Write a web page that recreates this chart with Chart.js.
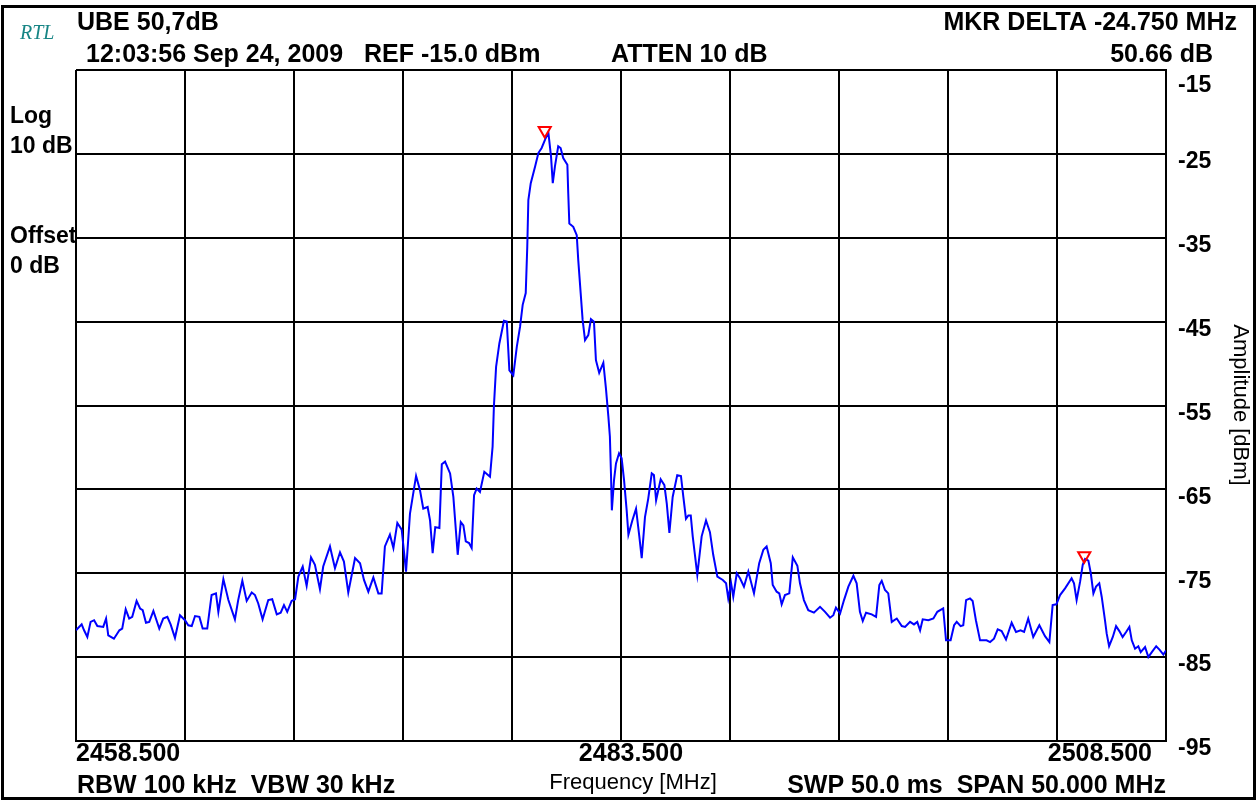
<!DOCTYPE html>
<html>
<head>
<meta charset="utf-8">
<script src="https://cdn.jsdelivr.net/npm/chart.js@4.4.0/dist/chart.umd.min.js"></script>
<style>
html, body { margin: 0; padding: 0; background: #fff; }
canvas { display: block; }
</style>
</head>
<body>
<canvas id="myChart" width="1259" height="802"></canvas>
<script>
// trace (MHz / dBm)
const freq = [
    2458.50, 2458.76, 2458.87, 2459.02, 2459.17, 2459.33, 2459.48, 2459.75, 2459.88, 2459.98,
    2460.24, 2460.49, 2460.62, 2460.78, 2460.94, 2461.08, 2461.28, 2461.44, 2461.56, 2461.71,
    2461.86, 2462.05, 2462.32, 2462.50, 2462.69, 2462.84, 2463.04, 2463.27, 2463.50, 2463.65,
    2463.81, 2463.96, 2464.16, 2464.31, 2464.52, 2464.72, 2464.92, 2465.03, 2465.26, 2465.49,
    2465.79, 2465.94, 2466.13, 2466.33, 2466.56, 2466.71, 2466.86, 2467.06, 2467.32, 2467.50,
    2467.71, 2467.89, 2468.04, 2468.19, 2468.39, 2468.55, 2468.70, 2468.90, 2469.08, 2469.28,
    2469.46, 2469.69, 2469.84, 2470.15, 2470.38, 2470.61, 2470.79, 2470.99, 2471.30, 2471.53,
    2471.71, 2471.91, 2472.14, 2472.37, 2472.52, 2472.67, 2472.90, 2473.06, 2473.24, 2473.44,
    2473.64, 2473.82, 2474.10, 2474.28, 2474.43, 2474.63, 2474.74, 2474.86, 2474.98, 2475.17,
    2475.28, 2475.43, 2475.66, 2475.81, 2476.01, 2476.15, 2476.27, 2476.38, 2476.53, 2476.65,
    2476.76, 2476.88, 2477.03, 2477.23, 2477.49, 2477.61, 2477.67, 2477.77, 2477.92, 2478.13,
    2478.26, 2478.38, 2478.56, 2478.72, 2478.87, 2478.99, 2479.13, 2479.20, 2479.25, 2479.36,
    2479.56, 2479.71, 2479.86, 2480.05, 2480.17, 2480.29, 2480.37, 2480.47, 2480.62, 2480.73,
    2480.85, 2481.04, 2481.08, 2481.13, 2481.31, 2481.47, 2481.54, 2481.65, 2481.74, 2481.85,
    2482.00, 2482.12, 2482.26, 2482.35, 2482.50, 2482.69, 2482.81, 2482.92, 2482.99, 2483.04,
    2483.08, 2483.18, 2483.27, 2483.41, 2483.53, 2483.64, 2483.76, 2483.84, 2484.02, 2484.19,
    2484.34, 2484.45, 2484.60, 2484.75, 2484.91, 2485.01, 2485.11, 2485.32, 2485.49, 2485.60,
    2485.72, 2485.87, 2486.08, 2486.25, 2486.36, 2486.48, 2486.59, 2486.70, 2486.79, 2487.00,
    2487.20, 2487.40, 2487.58, 2487.73, 2487.92, 2488.17, 2488.32, 2488.42, 2488.55, 2488.65,
    2488.81, 2488.96, 2489.14, 2489.34, 2489.60, 2489.84, 2490.03, 2490.18, 2490.37, 2490.46,
    2490.64, 2490.76, 2490.87, 2491.02, 2491.22, 2491.38, 2491.59, 2491.71, 2491.89, 2492.09,
    2492.35, 2492.63, 2492.86, 2493.09, 2493.24, 2493.36, 2493.55, 2493.73, 2493.93, 2494.16,
    2494.31, 2494.46, 2494.59, 2494.74, 2495.00, 2495.20, 2495.35, 2495.46, 2495.61, 2495.76,
    2495.92, 2496.15, 2496.38, 2496.53, 2496.76, 2496.94, 2497.09, 2497.22, 2497.34, 2497.60,
    2497.83, 2498.01, 2498.28, 2498.41, 2498.62, 2498.78, 2498.90, 2499.08, 2499.20, 2499.33,
    2499.51, 2499.63, 2499.78, 2499.97, 2500.27, 2500.43, 2500.61, 2500.78, 2500.96, 2501.16,
    2501.42, 2501.62, 2501.83, 2501.99, 2502.18, 2502.41, 2502.69, 2502.95, 2503.15, 2503.30,
    2503.47, 2503.64, 2503.87, 2504.17, 2504.28, 2504.40, 2504.56, 2504.68, 2504.79, 2504.94,
    2505.05, 2505.17, 2505.29, 2505.44, 2505.55, 2505.70, 2505.78, 2505.89, 2506.06, 2506.21,
    2506.36, 2506.51, 2506.67, 2506.82, 2506.93, 2507.08, 2507.23, 2507.34, 2507.54, 2507.69,
    2507.85, 2508.05, 2508.20, 2508.38, 2508.50
];
const amp = [
    -81.8, -81.1, -81.8, -82.6, -80.8, -80.6, -81.3, -81.4, -80.4, -82.4,
    -82.8, -81.8, -81.6, -79.3, -80.4, -80.2, -78.3, -79.2, -79.4, -80.9,
    -80.8, -79.5, -81.6, -80.4, -80.2, -81.1, -82.7, -80.0, -80.6, -81.2,
    -81.3, -80.1, -80.2, -81.6, -81.6, -77.6, -77.4, -79.6, -75.7, -78.2,
    -80.5, -78.2, -75.9, -78.3, -77.3, -77.6, -78.6, -80.5, -78.2, -78.1,
    -79.9, -79.7, -78.8, -79.6, -78.3, -78.1, -75.4, -74.2, -76.5, -73.1,
    -74.0, -76.9, -74.2, -71.8, -74.4, -72.5, -73.6, -77.3, -73.2, -73.8,
    -75.8, -77.2, -75.5, -77.4, -77.4, -71.8, -70.4, -72.0, -69.0, -69.8,
    -74.8, -67.9, -63.4, -65.1, -67.3, -67.1, -68.7, -72.6, -69.5, -69.6,
    -62.0, -61.7, -63.1, -65.9, -72.8, -68.9, -69.3, -71.2, -71.4, -72.0,
    -65.7, -64.9, -65.3, -62.9, -63.5, -59.9, -55.1, -50.4, -47.6, -44.9,
    -45.0, -50.8, -51.4, -48.0, -45.6, -43.0, -41.6, -36.1, -30.5, -28.5,
    -26.5, -24.9, -24.3, -23.1, -22.5, -25.3, -28.5, -26.5, -24.1, -24.3,
    -25.5, -26.3, -29.7, -33.3, -33.7, -34.7, -37.7, -41.6, -44.8, -47.2,
    -46.6, -44.7, -45.0, -49.6, -51.1, -49.9, -53.0, -56.3, -58.7, -63.1,
    -67.5, -63.9, -61.9, -60.7, -61.3, -63.9, -67.5, -70.4, -68.7, -67.3,
    -70.6, -73.2, -68.3, -66.1, -63.1, -63.3, -66.3, -63.8, -64.5, -66.7,
    -70.2, -65.9, -63.3, -63.4, -65.9, -68.5, -68.1, -68.1, -70.6, -75.2,
    -70.6, -68.7, -70.1, -72.8, -75.4, -75.8, -76.2, -78.0, -76.2, -77.8,
    -75.0, -75.6, -76.6, -74.8, -77.4, -73.8, -72.2, -71.8, -73.8, -76.4,
    -77.2, -77.4, -78.7, -77.6, -77.4, -73.1, -74.1, -76.2, -78.2, -79.4,
    -79.7, -79.0, -79.6, -80.3, -80.0, -79.1, -79.8, -78.2, -76.6, -75.3,
    -76.2, -79.6, -80.7, -79.7, -79.9, -80.2, -76.4, -75.9, -77.0, -77.4,
    -80.8, -80.4, -81.3, -81.4, -80.8, -81.1, -80.8, -81.8, -80.5, -80.6,
    -80.4, -79.6, -79.2, -83.0, -83.0, -81.2, -80.8, -81.3, -81.2, -78.2,
    -78.0, -78.3, -80.6, -83.0, -83.0, -83.2, -82.8, -81.7, -81.9, -82.9,
    -80.9, -82.0, -81.8, -82.0, -80.4, -82.6, -81.2, -82.5, -83.2, -78.8,
    -78.7, -77.6, -76.8, -75.6, -76.2, -78.2, -76.0, -74.0, -73.3, -73.5,
    -75.0, -77.4, -76.6, -76.2, -77.8, -80.6, -82.2, -83.7, -82.6, -81.3,
    -81.9, -82.6, -82.0, -81.4, -83.0, -84.0, -83.7, -84.4, -83.8, -85.0,
    -84.4, -83.7, -84.1, -84.7, -84.2
];
// markers (MKR 1 on the carrier, delta marker on the right)
const mkrFreq = [2480.0, 2504.75];
const mkrAmp = [-22.2, -72.9];

const yTicks = [-15, -25, -35, -45, -55, -65, -75, -85, -95];
const xTickValues = [2458.5, 2483.5, 2508.5];
const xTickLabels = ['2458.500', '2483.500', '2508.500'];

const FONT = '"Liberation Sans", Arial, sans-serif';

const textPlugin = {
    id: 'analyzerText',
    afterDraw(chart) {
        const ctx = chart.ctx;
        const xs = chart.scales.x;
        const ys = chart.scales.y;
        ctx.save();
        // outer frame
        ctx.strokeStyle = '#000';
        ctx.lineWidth = 3;
        ctx.strokeRect(2.5, 6.5, 1252, 792);

        ctx.fillStyle = '#000';
        ctx.textBaseline = 'middle';

        // header
        ctx.font = 'italic 20px "Liberation Serif", "Times New Roman", serif';
        ctx.fillStyle = '#178585';
        ctx.textAlign = 'left';
        ctx.fillText('RTL', 20, 34);
        ctx.fillStyle = '#000';
        ctx.font = 'bold 25px ' + FONT;
        ctx.fillText('UBE 50,7dB', 77, 23);
        ctx.fillText('12:03:56 Sep 24, 2009   REF -15.0 dBm', 86, 55);
        ctx.fillText('ATTEN 10 dB', 611, 55);
        ctx.textAlign = 'right';
        ctx.fillText('MKR DELTA -24.750 MHz', 1237, 23);
        ctx.fillText('50.66 dB', 1213, 55);

        // left side labels
        ctx.textAlign = 'left';
        ctx.font = 'bold 23px ' + FONT;
        ctx.fillText('Log', 10, 117);
        ctx.fillText('10 dB', 10, 147);
        ctx.fillText('Offset', 10, 237);
        ctx.fillText('0 dB', 10, 267);

        // y tick labels (right side, below the grid line)
        yTicks.forEach((v, i) => {
            const py = ys.getPixelForValue(v) + (i === 0 ? 16 : 8);
            ctx.fillText(String(v), 1178, py);
        });

        // amplitude title
        ctx.save();
        ctx.font = '22px ' + FONT;
        ctx.translate(1240, 405);
        ctx.rotate(Math.PI / 2);
        ctx.textAlign = 'center';
        ctx.fillText('Amplitude [dBm]', 0, 0);
        ctx.restore();

        // x tick labels
        ctx.font = 'bold 25px ' + FONT;
        const aligns = ['left', 'center', 'right'];
        const offs = [0, 10, -14];
        xTickValues.forEach((v, i) => {
            ctx.textAlign = aligns[i];
            ctx.fillText(xTickLabels[i], xs.getPixelForValue(v) + offs[i], 754);
        });

        // footer
        ctx.font = 'bold 25px ' + FONT;
        ctx.textAlign = 'left';
        ctx.fillText('RBW 100 kHz  VBW 30 kHz', 77, 786);
        ctx.textAlign = 'right';
        ctx.fillText('SWP 50.0 ms  SPAN 50.000 MHz', 1166, 786);
        ctx.textAlign = 'center';
        ctx.font = '22px ' + FONT;
        ctx.fillText('Frequency [MHz]', 633, 783);
        ctx.restore();
    }
};

const data = {
    datasets: [
        {
            label: 'Trace',
            data: freq.map((f, i) => ({ x: f, y: amp[i] })),
            borderColor: '#0000ff',
            borderWidth: 2,
            pointRadius: 0,
            tension: 0,
            order: 2,
        },
        {
            label: 'Marker',
            data: mkrFreq.map((f, i) => ({ x: f, y: mkrAmp[i] })),
            showLine: false,
            pointStyle: 'triangle',
            rotation: 180,
            pointRadius: 7,
            borderColor: '#ff0000',
            backgroundColor: 'rgba(255,255,255,0)',
            borderWidth: 2,
            clip: false,
            order: 1,
        }
    ]
};

const config = {
    type: 'line',
    data,
    plugins: [textPlugin],
    options: {
        responsive: false,
        animation: false,
        devicePixelRatio: 1,
        layout: { padding: { left: 76, top: 70, right: 93, bottom: 61 } },
        plugins: {
            legend: { display: false },
            tooltip: { enabled: false },
        },
        scales: {
            x: {
                type: 'linear',
                min: 2458.5,
                max: 2508.5,
                ticks: { stepSize: 5, display: false },
                grid: { color: '#000', lineWidth: 2, drawTicks: false },
                border: { color: '#000', width: 2 },
                afterFit: s => { s.height = 0; },
            },
            y: {
                type: 'linear',
                position: 'right',
                min: -95,
                max: -15,
                ticks: { stepSize: 10, display: false },
                grid: { color: '#000', lineWidth: 2, drawTicks: false },
                border: { color: '#000', width: 2 },
                afterFit: s => { s.width = 0; },
            }
        }
    }
};

const ctx = document.getElementById('myChart');
const myChart = new Chart(ctx, config);
</script>
</body>
</html>
